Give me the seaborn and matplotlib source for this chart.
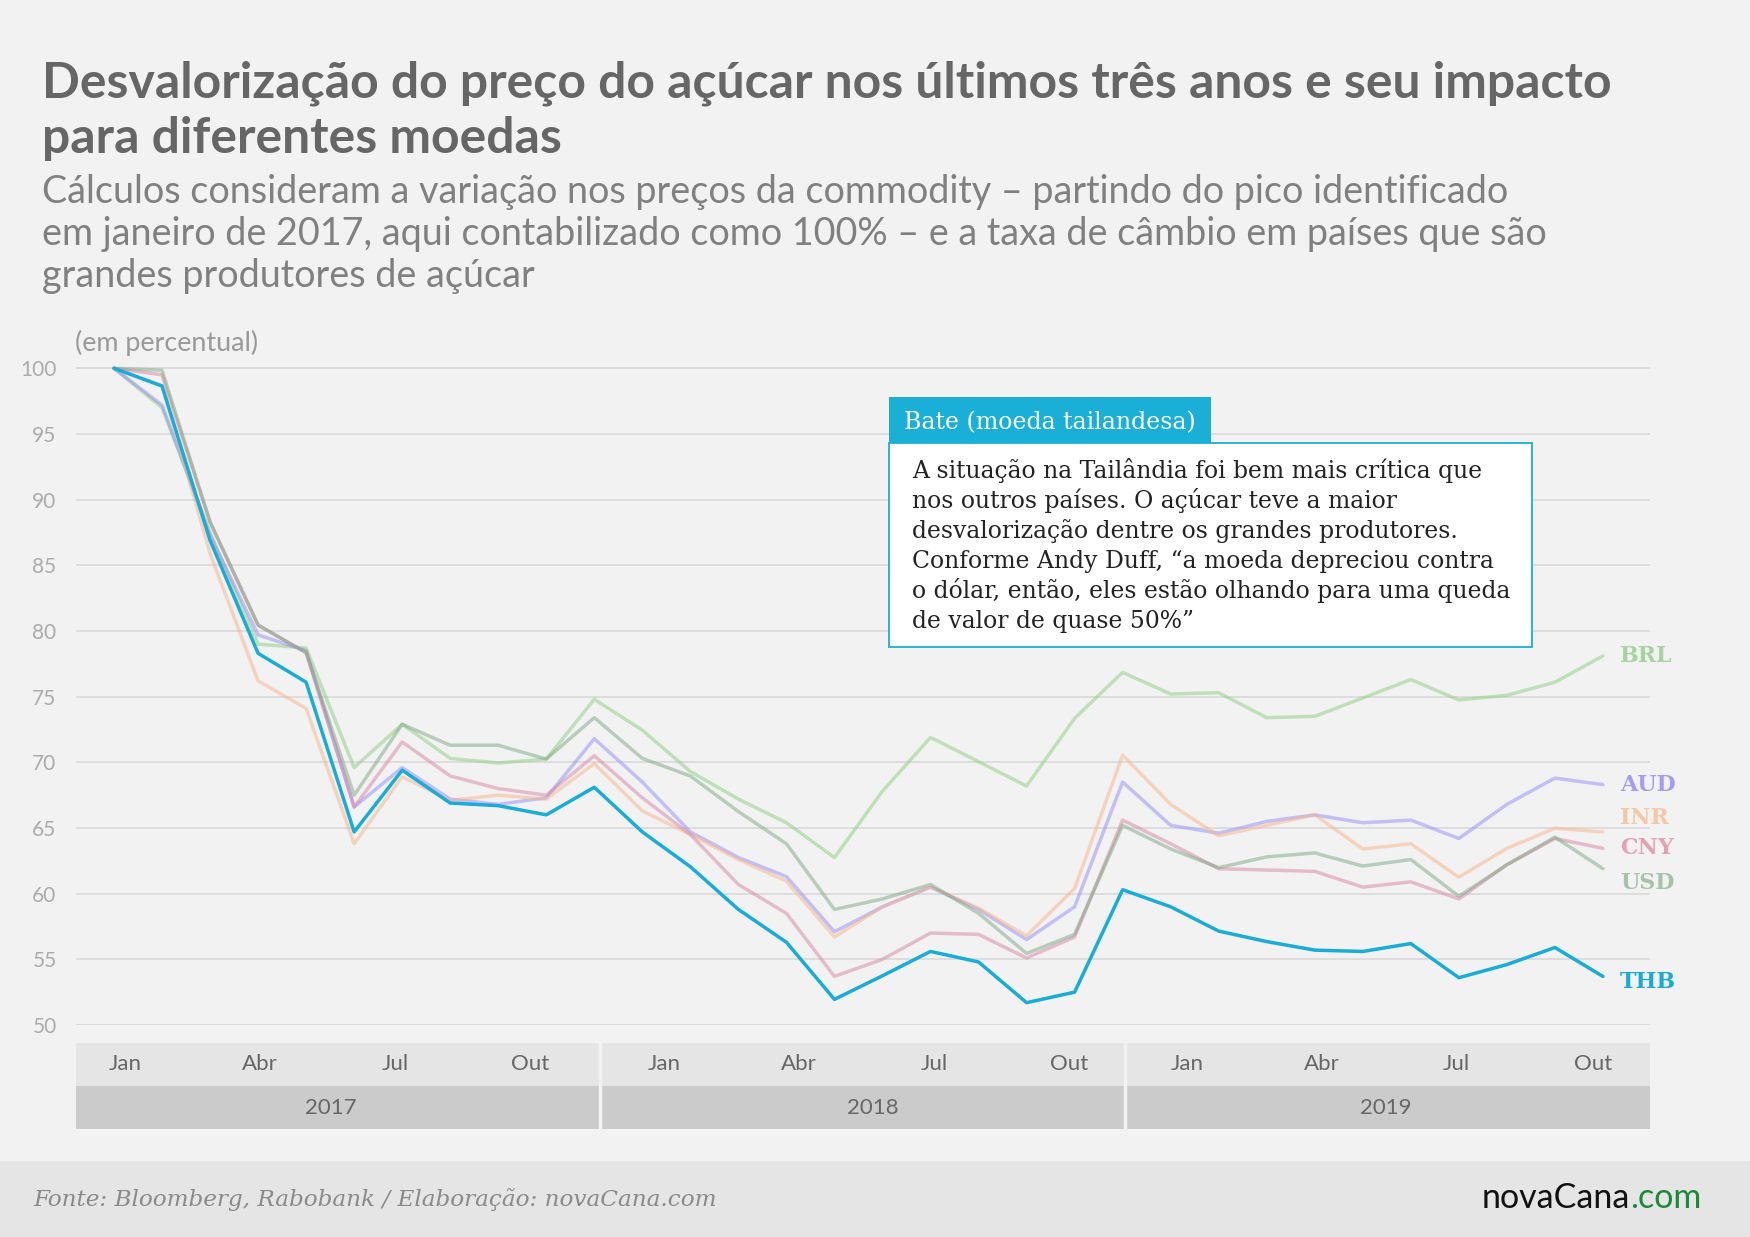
import numpy as np
import pandas as pd
import matplotlib
matplotlib.use("Agg")
import matplotlib.pyplot as plt
import seaborn as sns
from matplotlib.patches import Rectangle

# ---------------- data (percent of Jan-2017 peak) ----------------
periods = list(range(32))
BRL = [100, 97.0, 87.5, 79.0, 78.7, 69.6, 72.9, 70.3, 69.95, 70.25, 74.8, 72.45,
       69.3, 67.2, 65.4, 62.75, 67.8, 71.9, 70.05, 68.2, 73.35, 76.85, 75.2, 75.3,
       73.4, 73.5, 74.9, 76.3, 74.75, 75.1, 76.1, 78.1]
AUD = [100, 97.2, 87.3, 79.7, 78.5, 66.6, 69.6, 67.2, 66.8, 67.3, 71.8, 68.5,
       64.7, 62.75, 61.3, 57.1, 59.0, 60.5, 58.8, 56.5, 59.0, 68.5, 65.2, 64.6,
       65.5, 66.0, 65.4, 65.6, 64.2, 66.8, 68.8, 68.3]
INR = [100, 98.7, 85.9, 76.2, 74.1, 63.8, 68.9, 67.1, 67.5, 67.2, 69.9, 66.3,
       64.5, 62.6, 60.95, 56.7, 59.0, 60.5, 58.9, 56.8, 60.4, 70.55, 66.8, 64.4,
       65.2, 66.0, 63.4, 63.8, 61.25, 63.45, 64.98, 64.7]
CNY = [100, 99.5, 88.3, 80.45, 78.35, 66.6, 71.55, 68.96, 68.0, 67.5, 70.5, 67.3,
       64.5, 60.7, 58.5, 53.7, 55.0, 57.0, 56.9, 55.1, 56.7, 65.6, 63.8, 61.9,
       61.8, 61.7, 60.5, 60.9, 59.6, 62.2, 64.2, 63.45]
USD = [100, 99.85, 88.3, 80.45, 78.35, 67.5, 72.9, 71.3, 71.3, 70.25, 73.4, 70.3,
       68.96, 66.25, 63.8, 58.8, 59.6, 60.7, 58.5, 55.45, 56.9, 65.2, 63.4, 61.98,
       62.8, 63.1, 62.1, 62.6, 59.8, 62.2, 64.3, 61.9]
THB = [100, 98.65, 86.9, 78.3, 76.1, 64.7, 69.4, 66.9, 66.7, 66.0, 68.1, 64.7,
       62.05, 58.8, 56.3, 51.95, 53.75, 55.6, 54.8, 51.7, 52.5, 60.3, 59.0, 57.15,
       56.35, 55.7, 55.6, 56.2, 53.6, 54.6, 55.9, 53.7]

currencies = ["BRL", "AUD", "INR", "CNY", "USD", "THB"]
month_labels = ["Jan", "Abr", "Jul", "Out"] * 3
year_labels = ["2017", "2018", "2019"]
y_ticks = [50, 55, 60, 65, 70, 75, 80, 85, 90, 95, 100]

title_lines = ["Desvalorização do preço do açúcar nos últimos três anos e seu impacto",
               "para diferentes moedas"]
subtitle_lines = ["Cálculos consideram a variação nos preços da commodity – partindo do pico identificado",
                  "em janeiro de 2017, aqui contabilizado como 100% – e a taxa de câmbio em países que são",
                  "grandes produtores de açúcar"]
note_title = "Bate (moeda tailandesa)"
note_lines = ["A situação na Tailândia foi bem mais crítica que",
              "nos outros países. O açúcar teve a maior",
              "desvalorização dentre os grandes produtores.",
              "Conforme Andy Duff, “a moeda depreciou contra",
              "o dólar, então, eles estão olhando para uma queda",
              "de valor de quase 50%”"]
source_text = "Fonte: Bloomberg, Rabobank / Elaboração: novaCana.com"

df = pd.DataFrame({"periodo": periods, "BRL": BRL, "AUD": AUD, "INR": INR,
                   "CNY": CNY, "USD": USD, "THB": THB})
long = df.melt(id_vars="periodo", var_name="moeda", value_name="valor")

# ---------------- styles ----------------
BG = "#f2f2f2"
line_style = {
    "BRL": dict(color="#8cce7e", alpha=0.5),
    "AUD": dict(color="#928ef8", alpha=0.5),
    "INR": dict(color="#f8b48c", alpha=0.5),
    "CNY": dict(color="#d886a4", alpha=0.5),
    "USD": dict(color="#7ea884", alpha=0.5),
    "THB": dict(color="#19acd6", alpha=1.0),
}
label_color = {"BRL": "#a6d49e", "AUD": "#a39cf2", "INR": "#f6c7a6",
               "CNY": "#e3a1b4", "USD": "#a6c2a9", "THB": "#1aabd5"}
label_y = {"BRL": 78.1, "AUD": 68.3, "INR": 65.75, "CNY": 63.5, "USD": 60.8, "THB": 53.3}

sns.set_style("white")
plt.rcParams["font.family"] = ["Lato", "DejaVu Sans"]

W, H = 1750, 1237
fig = plt.figure(figsize=(W / 100, H / 100), dpi=100, facecolor=BG)
renderer = fig.canvas.get_renderer()


def fx(px):
    return px / W


def fy(py):
    return 1 - py / H


def fit_text(x, y, s, width, **kw):
    t = fig.text(fx(x), fy(y), s, **kw)
    bb = t.get_window_extent(renderer=renderer)
    t.set_fontsize(t.get_fontsize() * width / bb.width)
    return t


def fit_size(s, width, **kw):
    t = fig.text(0, 0, s, **kw)
    bb = t.get_window_extent(renderer=renderer)
    fs = t.get_fontsize() * width / bb.width
    t.remove()
    return fs


# footer band
fig.add_artist(Rectangle((0, 0), 1, fy(1161), transform=fig.transFigure,
                         facecolor="#e5e5e5", edgecolor="none", zorder=0))

# ---------------- main axes ----------------
X0, STEP = 114, 48.03
ax = fig.add_axes([fx(76), fy(1025), (1650 - 76) / W, (1025 - 340) / H])
ax.set_facecolor(BG)
for cur in currencies:
    st = line_style[cur]
    sns.lineplot(data=long[long.moeda == cur], x="periodo", y="valor", ax=ax,
                 color=st["color"], alpha=st["alpha"], lw=2.5, errorbar=None,
                 legend=False, zorder=5 if cur == "THB" else 3)
ax.set_xlim((76 - X0) / STEP, (1650 - X0) / STEP)
ax.set_ylim(50, 50 + (1025 - 340) / 13.134)
ax.set_yticks(y_ticks)
ax.set_yticklabels([str(v) for v in y_ticks])
ax.set_xticks([])
ax.set_xlabel("")
ax.set_ylabel("")
ax.tick_params(axis="y", length=0, pad=14, labelsize=15, labelcolor="#ababab")
ax.grid(axis="y", color="#d9d9d9", lw=1.2, zorder=1)
ax.grid(axis="x", visible=False)
for sp in ax.spines.values():
    sp.set_visible(False)

# currency labels at line ends
lab_fs = fit_size("THB", 56, family="DejaVu Serif", fontweight="bold")
label_x = (1620 - X0) / STEP
for cur in currencies:
    ax.text(label_x, label_y[cur], cur, color=label_color[cur], fontsize=lab_fs,
            family="DejaVu Serif", fontweight="bold", va="center", ha="left",
            clip_on=False)

# ---------------- category band (months / years) ----------------
bax = fig.add_axes([fx(76), fy(1129), (1650 - 76) / W, (1129 - 1043) / H])
bax.set_xlim(ax.get_xlim())
bax.set_ylim(0, 2)
bax.axis("off")
x_lo, x_hi = bax.get_xlim()
bax.add_patch(Rectangle((x_lo, 1), x_hi - x_lo, 1, facecolor="#e5e5e5", edgecolor="none"))
bax.add_patch(Rectangle((x_lo, 0), x_hi - x_lo, 1, facecolor="#cbcbcb", edgecolor="none"))
year_edges = [x_lo, 10.12, 21.05, x_hi]
for b in year_edges[1:-1]:
    bax.axvline(b, color=BG, lw=2.5)
month_pos = [0.23, 3.04, 5.85, 8.66, 11.45, 14.26, 17.07, 19.88, 22.34, 25.15, 27.94, 30.79]
for p, m in zip(month_pos, month_labels):
    bax.text(p, 1.5, m, ha="center", va="center", color="#666666", fontsize=16)
year_pos = [4.52, 15.8, 26.48]
for p, yl in zip(year_pos, year_labels):
    bax.text(p, 0.5, yl, ha="center", va="center", color="#666666", fontsize=16)

# ---------------- titles ----------------
title_fs = fit_size(title_lines[0], 1575, fontweight="bold")
fig.text(fx(42), fy(98), title_lines[0], fontsize=title_fs, fontweight="bold",
         color="#666666", va="baseline")
fig.text(fx(42), fy(153), title_lines[1], fontsize=title_fs, fontweight="bold",
         color="#666666", va="baseline")
sub_fs = fit_size(subtitle_lines[0], 1473)
for yb, s in zip([203, 245, 287], subtitle_lines):
    fig.text(fx(42), fy(yb), s, fontsize=sub_fs, color="#808080", va="baseline")
fit_text(75, 351, "(em percentual)", 183, color="#999999", va="baseline")

# ---------------- annotation box ----------------
fig.add_artist(Rectangle((fx(889), fy(647)), (1532 - 889) / W, (647 - 443) / H,
                         transform=fig.transFigure, facecolor="white",
                         edgecolor="#1aafd6", lw=1.3, zorder=6))
fig.add_artist(Rectangle((fx(889), fy(443)), (1211 - 889) / W, (443 - 397) / H,
                         transform=fig.transFigure, facecolor="#1aafd6",
                         edgecolor="none", zorder=6))
fit_text(904, 429, note_title, 294, color="white", family="DejaVu Serif",
         va="baseline", zorder=7)
note_fs = fit_size(note_lines[0], 576, family="DejaVu Serif")
for yb, s in zip([478, 508, 538, 568, 598, 628], note_lines):
    fig.text(fx(912), fy(yb), s, fontsize=note_fs, family="DejaVu Serif",
             color="#222222", va="baseline", zorder=7)

# ---------------- footer ----------------
fit_text(33, 1206, source_text, 682, color="#8a8a8a", family="DejaVu Serif",
         style="italic", va="baseline")
logo_fs = fit_size("novaCana.com", 220)
t1 = fig.text(fx(1482), fy(1208), "novaCana", fontsize=logo_fs,
              color="#111111", va="baseline")
w1 = t1.get_window_extent(renderer=renderer).width
fig.text(fx(1482 + w1), fy(1208), ".com", fontsize=logo_fs,
         color="#1a8a3a", va="baseline")

fig.savefig("out.png", dpi=100, facecolor=BG)
